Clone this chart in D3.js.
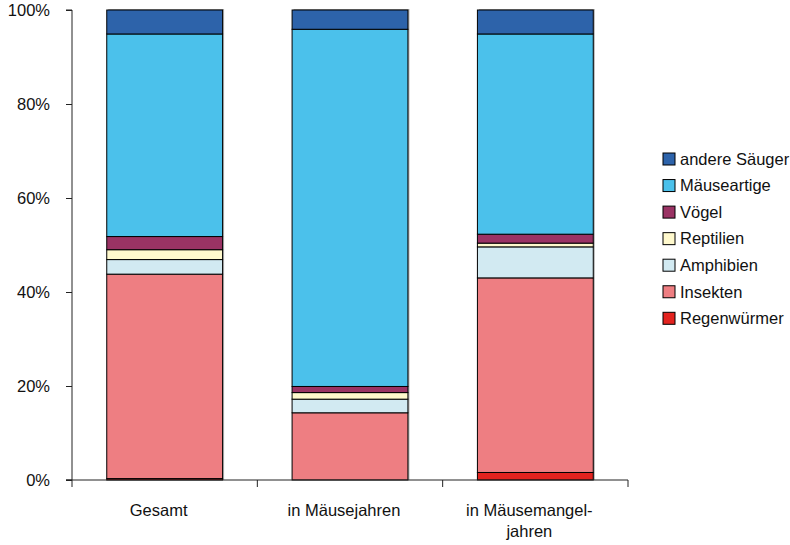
<!DOCTYPE html>
<html>
<head>
<meta charset="utf-8">
<script src="https://cdn.jsdelivr.net/npm/d3@7"></script>
<style>
  html, body { margin: 0; padding: 0; background: #fff; }
  svg { display: block; font-family: "Liberation Sans", Arial, sans-serif; }
</style>
</head>
<body>
<svg id="chart" width="790" height="545"></svg>
<script>
// Categories (x axis), with line breaks for the labels
const categories = ["Gesamt", "in Mäusejahren", "in Mäusemangeljahren"];
const categoryLabels = [["Gesamt"], ["in Mäusejahren"], ["in Mäusemangel-", "jahren"]];

// Prey groups, stacked from bottom to top
const groups = ["Regenwürmer", "Insekten", "Amphibien", "Reptilien", "Vögel", "Mäuseartige", "andere Säuger"];
const groupColors = ["#E3231F", "#EE7E82", "#D2EAF2", "#FFF9CD", "#9A3364", "#4BC1EB", "#2D63AA"];

// Shares in percent per category
const regenwuermer = [0.3, 0.0, 1.6];
const insekten     = [43.5, 14.3, 41.4];
const amphibien    = [3.1, 2.9, 6.6];
const reptilien    = [2.1, 1.4, 0.8];
const voegel       = [2.8, 1.3, 1.9];
const maeuseartige = [43.1, 76.0, 42.6];
const andere       = [5.1, 4.1, 5.1];

const yTicks = [0, 20, 40, 60, 80, 100];

const seriesValues = [regenwuermer, insekten, amphibien, reptilien, voegel, maeuseartige, andere];
const rows = categories.map((c, i) => {
  const r = { category: c };
  groups.forEach((g, k) => { r[g] = seriesValues[k][i]; });
  return r;
});

const svg = d3.select("#chart");
const margin = { left: 72, right: 162, top: 10, bottom: 65 };
const W = 790, H = 545;
const fontSize = "16.5px";

const x = d3.scaleBand()
  .domain(categories)
  .range([margin.left, W - margin.right])
  .paddingInner(0.375)
  .paddingOuter(0.1875);

const y = d3.scaleLinear()
  .domain([0, 100])
  .range([H - margin.bottom, margin.top]);

const stack = d3.stack().keys(groups);
const stacked = stack(rows);

// Bar shadows
svg.append("g")
  .selectAll("rect")
  .data(rows)
  .join("rect")
  .attr("x", d => x(d.category) + 1.5)
  .attr("y", y(100) - 1)
  .attr("width", x.bandwidth())
  .attr("height", y(0) - y(100) + 1)
  .attr("fill", "#8a8a8a")
  .attr("opacity", 0.7);

// Stacked segments
svg.append("g")
  .selectAll("g")
  .data(stacked)
  .join("g")
  .attr("fill", (d, i) => groupColors[i])
  .selectAll("rect")
  .data(d => d.filter(s => s[1] - s[0] > 0))
  .join("rect")
  .attr("x", d => x(d.data.category))
  .attr("y", d => y(d[1]))
  .attr("width", x.bandwidth())
  .attr("height", d => y(d[0]) - y(d[1]))
  .attr("stroke", "#000")
  .attr("stroke-width", 1);

// Y axis
const yAxis = d3.axisLeft(y)
  .tickValues(yTicks)
  .tickFormat(d => d + "%")
  .tickSize(6)
  .tickPadding(16);

const gy = svg.append("g")
  .attr("transform", `translate(${margin.left},0)`)
  .call(yAxis);
gy.select(".domain").attr("stroke", "#222").attr("d", `M-6,${y(100)}H0V${y(0)}H-6`);
gy.selectAll(".tick line").attr("stroke", "#222");
gy.selectAll(".tick text")
  .attr("font-size", fontSize)
  .attr("font-family", "Liberation Sans, Arial, sans-serif")
  .attr("fill", "#111");

// X axis: baseline plus boundary ticks between categories
const xAxisG = svg.append("g");
xAxisG.append("line")
  .attr("x1", margin.left - 6).attr("x2", W - margin.right)
  .attr("y1", y(0)).attr("y2", y(0))
  .attr("stroke", "#222");
const bounds = d3.range(categories.length + 1).map(i => margin.left + i * (W - margin.right - margin.left) / categories.length);
xAxisG.selectAll(".bt")
  .data(bounds)
  .join("line")
  .attr("x1", d => d).attr("x2", d => d)
  .attr("y1", y(0)).attr("y2", y(0) + 7)
  .attr("stroke", "#222");

// Category labels sit slightly left of the bar centres
const labelShift = -6;
const labels = xAxisG.selectAll(".cl")
  .data(categories)
  .join("text")
  .attr("text-anchor", "middle")
  .attr("font-size", fontSize)
  .attr("fill", "#111")
  .attr("x", d => x(d) + x.bandwidth() / 2 + labelShift)
  .attr("y", 516);
labels.selectAll("tspan")
  .data((d, i) => categoryLabels[i])
  .join("tspan")
  .attr("x", function () { return d3.select(this.parentNode).attr("x"); })
  .attr("dy", (d, i) => i === 0 ? 0 : 21)
  .text(d => d);

// Legend, top entry is the top segment
const legend = svg.append("g").attr("transform", "translate(663,153)");
const legendItems = groups.slice().reverse();
const legendColors = groupColors.slice().reverse();
const item = legend.selectAll("g")
  .data(legendItems)
  .join("g")
  .attr("transform", (d, i) => `translate(0,${i * 26.55})`);
item.append("rect")
  .attr("width", 12).attr("height", 12)
  .attr("fill", (d, i) => legendColors[i])
  .attr("stroke", "#000").attr("stroke-width", 1);
item.append("text")
  .attr("x", 17).attr("y", 6)
  .attr("dy", "0.35em")
  .attr("font-size", fontSize)
  .attr("fill", "#111")
  .text(d => d);
</script>
</body>
</html>
